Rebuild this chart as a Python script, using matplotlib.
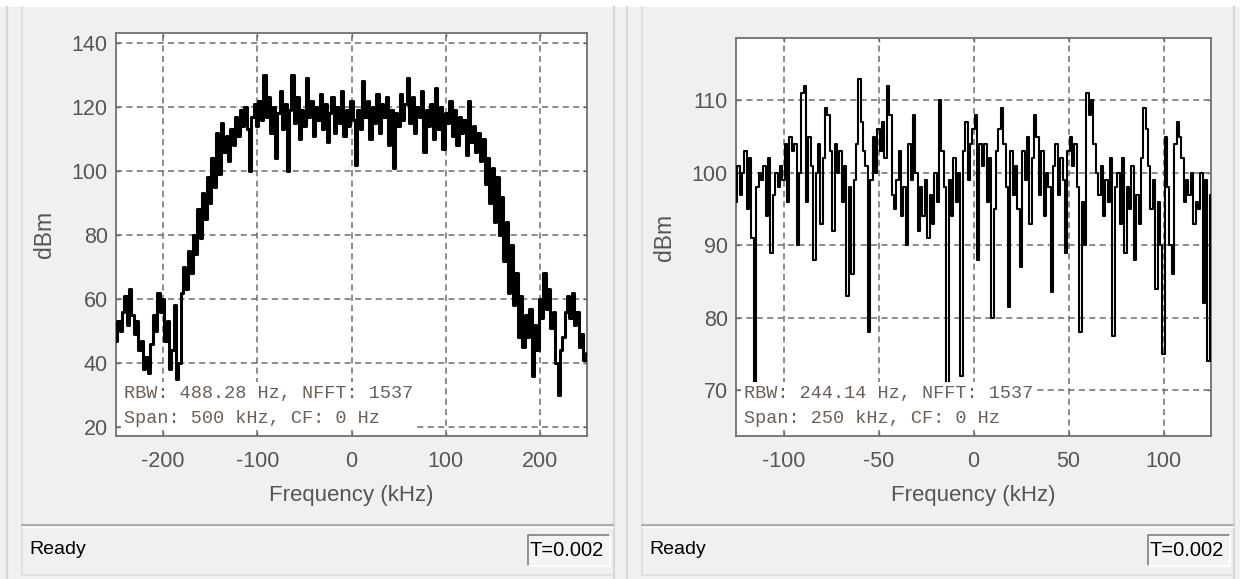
import numpy as np
import matplotlib
matplotlib.use('Agg')
import matplotlib.pyplot as plt
from matplotlib.patches import Rectangle

# wideband capture, 2.5 kHz bins across the 500 kHz span
freq_wide = np.arange(-250, 250.1, 2.5)
pow_wide = [47, 53, 50, 56, 61, 52, 63, 55, 49, 53,
            44, 47, 38, 42, 37, 46, 55, 50, 62, 56,
            60, 47, 53, 38, 44, 58, 35, 40, 62, 70,
            63, 75, 68, 80, 74, 88, 79, 93, 85, 98,
            90, 104, 95, 112, 99, 115, 106, 111, 103, 113,
            108, 117, 111, 119, 114, 120, 113, 100, 117, 121,
            114, 122, 116, 130, 117, 123, 112, 120, 104, 118,
            125, 113, 121, 100, 119, 130, 115, 123, 110, 119,
            114, 129, 117, 122, 111, 120, 116, 124, 113, 121,
            109, 118, 123, 112, 120, 115, 125, 111, 119, 114,
            122, 116, 102, 119, 113, 128, 117, 122, 110, 120,
            115, 124, 112, 121, 117, 123, 108, 119, 101, 118,
            114, 124, 116, 121, 129, 115, 123, 112, 120, 117,
            125, 106, 119, 114, 121, 110, 126, 113, 120, 107,
            118, 115, 122, 111, 119, 108, 117, 112, 116, 105,
            122, 109, 114, 106, 112, 103, 110, 96, 104, 90,
            101, 84, 98, 80, 92, 72, 84, 62, 77, 58,
            68, 48, 61, 45, 55, 48, 57, 36, 52, 44,
            60, 54, 68, 57, 63, 51, 56, 40, 30, 44,
            48, 56, 61, 54, 62, 52, 56, 45, 49, 41,
            43]

# narrowband capture, 1.25 kHz bins across the 250 kHz span
freq_narrow = np.arange(-125, 125.1, 1.25)
pow_narrow = [96, 101, 97, 100, 103, 95, 102, 91, 70.5, 98,
              100, 99, 101, 94, 102, 89, 97, 100, 98, 101,
              99, 104, 96, 105, 103, 104, 90, 100, 111, 112,
              96, 105, 101, 88, 100, 104, 93, 102, 109, 108,
              103, 92, 104, 100, 103, 96, 101, 83, 98, 86,
              99, 104, 113, 107, 103, 101, 78, 99, 105, 100,
              106, 103, 107, 102, 112, 108, 97, 95, 99, 103,
              94, 98, 90, 104, 99, 108, 100, 92, 98, 94,
              99, 91, 97, 93, 100, 96, 110, 103, 98, 70.5,
              99, 94, 102, 96, 100, 72, 103, 107, 99, 104,
              106, 108, 88, 104, 101, 104, 96, 102, 80, 95,
              103, 106, 109, 104, 98, 81.5, 103, 97, 101, 95,
              87, 103, 99, 105, 93, 102, 108, 105, 97, 103,
              94, 100, 98, 83.5, 101, 104, 97, 102, 99, 89,
              103, 105, 101, 104, 98, 78, 96, 90, 111, 108,
              110, 104, 100, 97, 101, 94, 99, 96, 102, 77.5,
              98, 100, 93, 102, 89, 98, 95, 101, 88, 97,
              93, 102, 109, 106, 101, 95, 99, 84, 96, 90,
              75, 105, 98, 90, 86, 104, 107, 105, 102, 96,
              99, 97, 100, 93, 96, 95, 100, 82, 99, 74,
              97]

xticks_wide = [-200, -100, 0, 100, 200]
yticks_wide = [20, 40, 60, 80, 100, 120, 140]
xticks_narrow = [-100, -50, 0, 50, 100]
yticks_narrow = [70, 80, 90, 100, 110]

info_wide = 'RBW: 488.28 Hz, NFFT: 1537\nSpan: 500 kHz, CF: 0 Hz'
info_narrow = 'RBW: 244.14 Hz, NFFT: 1537\nSpan: 250 kHz, CF: 0 Hz'
status_text = 'Ready'
time_text = 'T=0.002'

W, H = 1247, 579
plt.rcParams['font.family'] = ['Liberation Sans', 'DejaVu Sans']
plt.rcParams['axes.unicode_minus'] = False
fig = plt.figure(figsize=(W / 100, H / 100), dpi=100, facecolor='#f0f0f0')

# window chrome drawn in pixel coordinates
bg = fig.add_axes([0, 0, 1, 1], zorder=-10)
bg.set_xlim(0, W)
bg.set_ylim(H, 0)
bg.axis('off')
bg.add_patch(Rectangle((0, 0), W, 7, color='white', lw=0))
bg.add_patch(Rectangle((1240, 0), W - 1240, H, color='white', lw=0))
for px0 in (0, 620):
    bg.plot([px0 + 7, px0 + 7], [7, H], color='#d6d6d6', lw=1.5)
    bg.plot([px0 + 22, px0 + 22], [7, 575], color='#dcdcdc', lw=1.2)
    bg.plot([px0 + 614, px0 + 614], [7, H], color='#d6d6d6', lw=1.5)
    bg.plot([px0 + 22, px0 + 613], [525, 525], color='#a0a0a0', lw=1.2)
    bg.plot([px0 + 22, px0 + 613], [526.5, 526.5], color='white', lw=1.0)
    bg.plot([px0 + 22, px0 + 613], [575, 575], color='#dcdcdc', lw=1.2)
    bg.text(px0 + 29, 549, status_text, fontsize=14, color='black',
            va='center', ha='left')
    bx = px0 + 528
    bg.add_patch(Rectangle((bx, 535), 82, 31, facecolor='#f4f4f4', lw=0))
    bg.plot([bx, bx, bx + 82], [566, 535, 535], color='#808080', lw=1.2)
    bg.plot([bx, bx + 82, bx + 82], [566, 566, 535], color='white', lw=1.2)
    bg.text(bx + 2, 551, time_text, fontsize=14.5, color='black',
            va='center', ha='left')


def spectrum_axes(rect, freq, power, xlim, ylim, xticks, yticks, info, lw):
    ax = fig.add_axes(rect)
    ax.set_facecolor('white')
    ax.plot(freq, power, color='black', lw=lw, drawstyle='steps-mid',
            zorder=3)
    ax.set_xlim(*xlim)
    ax.set_ylim(*ylim)
    ax.set_xticks(xticks)
    ax.set_yticks(yticks)
    ax.grid(True, color='#6e6e6e', lw=1.1, linestyle=(0, (4, 2.8)))
    ax.set_axisbelow(True)
    ax.tick_params(direction='in', length=3, width=1, color='#6a6a6a',
                   top=True, right=True, labelsize=15.5, labelcolor='#555555')
    ax.tick_params(axis='x', pad=11)
    ax.tick_params(axis='y', pad=6)
    for s in ax.spines.values():
        s.set_color('#707070')
        s.set_linewidth(1.3)
    ax.set_xlabel('Frequency (kHz)', fontsize=16, color='#555555',
                  labelpad=9)
    ax.set_ylabel('dBm', fontsize=16.5, color='#555555', labelpad=11)
    ax.annotate(info, xy=(0, 0), xycoords='axes fraction',
                xytext=(8, 9), textcoords='offset pixels',
                ha='left', va='bottom', fontsize=13.3,
                family='Liberation Mono', color='#6a6058', linespacing=1.65,
                bbox=dict(facecolor='white', edgecolor='none', pad=2),
                zorder=5)
    return ax


spectrum_axes([116 / W, 1 - 436 / H, 471 / W, 403 / H],
              freq_wide, pow_wide, (-250, 250), (17.2, 143.1),
              xticks_wide, yticks_wide, info_wide, 2.2)
spectrum_axes([736 / W, 1 - 436 / H, 475 / W, 398 / H],
              freq_narrow, pow_narrow, (-125, 125), (63.7, 118.6),
              xticks_narrow, yticks_narrow, info_narrow, 1.5)

fig.savefig('out.png', dpi=100, facecolor=fig.get_facecolor())
